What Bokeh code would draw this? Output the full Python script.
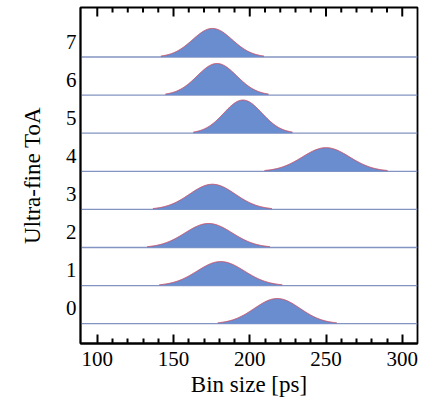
import numpy as np
from bokeh.plotting import figure
from bokeh.models import FixedTicker, LinearAxis, Range1d
from bokeh.embed import file_html
from bokeh.resources import INLINE

# Data
rows = [0, 1, 2, 3, 4, 5, 6, 7]
means = [218.0, 181.0, 173.0, 175.5, 250.0, 195.5, 178.5, 175.5]      # peak position [ps]
sigmas = [15.0, 15.5, 15.5, 15.0, 15.5, 12.5, 13.0, 13.0]            # width [ps]
peaks = [0.66, 0.63, 0.63, 0.66, 0.62, 0.87, 0.83, 0.75]             # peak height (row units)
x_major = [100, 150, 200, 250, 300]
x_minor = [110, 120, 130, 140, 160, 170, 180, 190, 210, 220, 230, 240, 260, 270, 280, 290]
row_labels = [str(r) for r in rows]

FONT = "Liberation Serif"
FILL = "#6a8dcf"
BASE = "#8494c2"
EDGE = "#c8506a"
OFFSET = 0.4  # baseline sits below the row label

X0, X1 = 89, 310
Y0, Y1 = -0.92, 7.9
FRAME_H = 336

p = figure(width=425, height=403, x_range=Range1d(X0, X1), y_range=Range1d(Y0, Y1),
           min_border_left=80, min_border_right=8, min_border_top=7, min_border_bottom=60,
           toolbar_location=None, output_backend="svg", x_axis_location=None, y_axis_location=None)
p.grid.visible = False
p.outline_line_color = "black"
p.outline_line_width = 1.8

for r, m, s, h in zip(rows, means, sigmas, peaks):
    base = r - OFFSET
    p.line([X0, X1], [base, base], line_color=BASE, line_width=1.3)
    xs = np.linspace(m - 2.6 * s, m + 2.6 * s, 200)
    ys = base + h * np.exp(-0.5 * ((xs - m) / s) ** 2)
    p.varea(x=xs, y1=np.full_like(xs, base), y2=ys, fill_color=FILL)
    p.line(xs, ys, line_color=EDGE, line_width=1)

# inward ticks on the top edge
upp = (Y1 - Y0) / FRAME_H  # data units per pixel
maj_len, min_len = 9 * upp, 5 * upp
p.segment(x0=x_major, y0=[Y1] * len(x_major), x1=x_major,
          y1=[Y1 - maj_len] * len(x_major), line_color="black", line_width=2)
p.segment(x0=x_minor, y0=[Y1] * len(x_minor), x1=x_minor,
          y1=[Y1 - min_len] * len(x_minor), line_color="black", line_width=2)

# bottom axis (labels + inward ticks)
xb = LinearAxis(ticker=FixedTicker(ticks=x_major, minor_ticks=x_minor), axis_label="Bin size [ps]")
xb.major_tick_in = 9
xb.major_tick_out = 0
xb.minor_tick_in = 5
xb.minor_tick_out = 0
xb.major_tick_line_color = "black"
xb.minor_tick_line_color = "black"
xb.major_tick_line_width = 2
xb.minor_tick_line_width = 2
xb.axis_line_color = "black"
xb.axis_line_width = 1.8
xb.major_label_text_font = FONT
xb.major_label_text_font_size = "21px"
xb.major_label_text_color = "black"
xb.major_label_standoff = 8
xb.axis_label_text_font = FONT
xb.axis_label_text_font_size = "23px"
xb.axis_label_text_font_style = "normal"
xb.axis_label_text_color = "black"
xb.axis_label_standoff = 3
p.add_layout(xb, "below")

yl = LinearAxis(ticker=FixedTicker(ticks=rows, minor_ticks=[]), axis_label="Ultra-fine ToA")
yl.major_label_overrides = {r: lab for r, lab in zip(rows, row_labels)}
yl.major_tick_in = 0
yl.major_tick_out = 0
yl.minor_tick_in = 0
yl.minor_tick_out = 0
yl.axis_line_color = "black"
yl.axis_line_width = 1.8
yl.major_label_text_font = FONT
yl.major_label_text_font_size = "21px"
yl.major_label_text_color = "black"
yl.major_label_standoff = 4
yl.axis_label_text_font = FONT
yl.axis_label_text_font_size = "23px"
yl.axis_label_text_font_style = "normal"
yl.axis_label_text_color = "black"
yl.axis_label_standoff = 18
p.add_layout(yl, "left")

open("out.html", "w").write(file_html(p, INLINE))
